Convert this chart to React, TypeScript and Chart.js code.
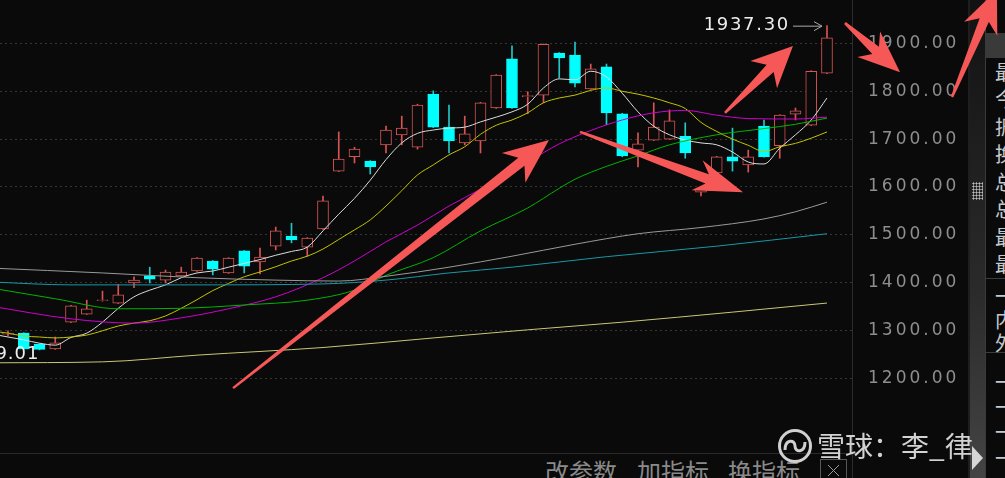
import React, { useEffect, useRef } from 'react';
import { Chart, registerables } from 'chart.js';

Chart.register(...registerables);

// ---------- data ----------
const opens = [1292, 1294, 1271, 1261, 1317, 1334, 1362, 1357, 1399, 1414, 1405, 1414, 1424, 1445, 1420, 1466, 1443, 1476, 1497, 1474, 1512, 1633, 1663, 1654, 1688, 1709, 1683, 1794, 1725, 1692, 1696, 1765, 1868, 1789, 1792, 1880, 1876, 1805, 1851, 1753, 1677, 1698, 1700, 1706, 1589, 1629, 1663, 1646, 1727, 1686, 1752, 1729, 1838];
const highs = [1299, 1295, 1272, 1286, 1352, 1363, 1382, 1396, 1412, 1432, 1426, 1432, 1452, 1446, 1452, 1467, 1472, 1516, 1524, 1494, 1581, 1715, 1683, 1655, 1727, 1748, 1773, 1801, 1771, 1748, 1777, 1835, 1895, 1799, 1899, 1881, 1903, 1857, 1857, 1754, 1713, 1776, 1761, 1734, 1600, 1664, 1723, 1677, 1740, 1751, 1765, 1843, 1937.3];
const lows = [1288, 1260, 1259.01, 1260, 1316, 1333, 1361, 1356, 1389, 1399, 1399, 1413, 1423, 1416, 1419, 1420, 1418, 1468, 1483, 1455, 1511, 1632, 1650, 1627, 1671, 1688, 1679, 1724, 1671, 1688, 1671, 1764, 1764, 1753, 1776, 1828, 1809, 1804, 1730, 1663, 1642, 1697, 1699, 1660, 1581, 1628, 1633, 1631, 1662, 1660, 1740, 1728, 1837];
const closes = [1294, 1261, 1260, 1274, 1351, 1345, 1364, 1374, 1405, 1407, 1422, 1422, 1451, 1428, 1451, 1434, 1453, 1508, 1489, 1493, 1571, 1658, 1679, 1642, 1719, 1723, 1771, 1725, 1696, 1711, 1776, 1834, 1765, 1791, 1898, 1870, 1817, 1847, 1755, 1665, 1690, 1725, 1738, 1671, 1596, 1663, 1654, 1663, 1663, 1750, 1759, 1842, 1912];

// moving averages, first value belongs to index -1 (just left of the view)
const ma5 = [1292, 1286, 1280, 1273, 1269, 1285, 1294, 1317, 1346, 1370, 1384, 1395, 1410, 1420, 1424, 1432, 1440, 1448, 1457, 1465, 1474, 1508, 1543, 1576, 1614, 1657, 1692, 1712, 1719, 1723, 1725, 1736, 1746, 1757, 1773, 1807, 1826, 1824, 1842, 1830, 1796, 1757, 1727, 1709, 1698, 1692, 1688, 1673, 1652, 1648, 1681, 1709, 1740, 1786];
const ma10 = [1298, 1294, 1288, 1286, 1284, 1286, 1290, 1299, 1309, 1315, 1320, 1330, 1346, 1364, 1383, 1398, 1412, 1422, 1433, 1445, 1455, 1470, 1490, 1510, 1531, 1560, 1592, 1625, 1646, 1667, 1684, 1710, 1729, 1740, 1755, 1776, 1786, 1792, 1802, 1807, 1800, 1794, 1786, 1776, 1764, 1735, 1716, 1700, 1687, 1674, 1684, 1691, 1702, 1715];
// sparse readings: [index, value]
const ma20: [number, number][] = [[-1, 1350], [4, 1324], [8, 1315], [11, 1326], [14, 1345], [17, 1370], [20, 1410], [22, 1445], [24, 1485], [26, 1520], [28, 1560], [30, 1595], [33, 1652], [35, 1690], [37, 1718], [39, 1740], [41, 1755], [43, 1760], [45, 1750], [47, 1743], [50, 1742], [52, 1746]];
const ma30: [number, number][] = [[-1, 1388], [3, 1366], [7, 1345], [11, 1346], [15, 1353], [19, 1363], [22, 1384], [24, 1415], [27, 1452], [30, 1508], [33, 1556], [35, 1597], [36, 1616], [38, 1643], [40, 1665], [42, 1688], [45, 1709], [48, 1722], [50, 1731], [52, 1744]];
const ma60: [number, number][] = [[-1, 1430], [6, 1420], [12, 1410], [17, 1405], [21, 1403], [24, 1413], [28, 1432], [32, 1455], [36, 1480], [40, 1502], [44, 1515], [48, 1533], [50, 1548], [52, 1568]];
const ma120: [number, number][] = [[-1, 1401], [4, 1395], [12, 1395], [20, 1397], [24, 1405], [28, 1420], [32, 1432], [38, 1454], [45, 1476], [52, 1502]];
const ma250: [number, number][] = [[-1, 1232], [6, 1234], [12, 1248], [20, 1264], [27, 1284], [33, 1301], [39, 1317], [46, 1338], [52, 1357]];

const yTickValues = [1200, 1300, 1400, 1500, 1600, 1700, 1800, 1900];

// hand-drawn red arrows, anchored in data space: [index, price]
const arrowFrom: [number, number][] = [[14.29, 1179], [36.32, 1715], [45.52, 1755], [53.14, 1943], [59.94, 1788]];
const arrowTo: [number, number][] = [[34.35, 1698], [46.67, 1589], [49.84, 1895], [56.64, 1840], [62.79, 2012]];
const arrowHeadLen = [45, 49, 41, 42, 42];
const arrowHeadW = [38, 32, 38, 34, 36];

const panelRowsA = ['最新', '今开', '振幅', '换手', '总手', '总额', '最高', '最低'];
const panelRowsB = ['一', '内盘', '外盘'];
const panelRowsC = ['一', '一', '一', '一'];
const toolbarItems = ['改参数', '加指标', '换指标'];
const watermark = '雪球：李_律';

// ---------- styling ----------
const BG = '#0a0a0a';
const RED = '#d85454';
const CYAN = '#00ffff';
const CYAN_WICK = '#24c6c6';
const ARROW = '#f65858';

function drawArrow(ctx: CanvasRenderingContext2D, x0: number, y0: number, x1: number, y1: number, headLen: number, headW: number) {
  const dx = x1 - x0, dy = y1 - y0;
  const L = Math.hypot(dx, dy);
  const ux = dx / L, uy = dy / L;
  const nx = -uy, ny = ux;
  const tailW = 2.5, shaftW = 10;
  const bx = x1 - ux * headLen, by = y1 - uy * headLen;
  const kx = x1 - ux * headLen * 0.78, ky = y1 - uy * headLen * 0.78;
  ctx.beginPath();
  ctx.moveTo(x0 + nx * tailW / 2, y0 + ny * tailW / 2);
  ctx.lineTo(kx + nx * shaftW / 2, ky + ny * shaftW / 2);
  ctx.lineTo(bx + nx * headW / 2, by + ny * headW / 2);
  ctx.lineTo(x1, y1);
  ctx.lineTo(bx - nx * headW / 2, by - ny * headW / 2);
  ctx.lineTo(kx - nx * shaftW / 2, ky - ny * shaftW / 2);
  ctx.lineTo(x0 - nx * tailW / 2, y0 - ny * tailW / 2);
  ctx.closePath();
  ctx.fill();
}

const overlayPlugin = {
  id: 'overlay',
  beforeDraw(chart: any) {
    (chart.ctx as any).letterSpacing = '3px';
  },
  beforeDatasetsDraw(chart: any) {
    (chart.ctx as any).letterSpacing = '0px';
  },
  afterDraw(chart: any) {
    const ctx: CanvasRenderingContext2D = chart.ctx;
    const xs = chart.scales.x, ys = chart.scales.y;
    ctx.save();
    // highest high marker
    let hi = 0, lo = 0;
    highs.forEach((h, i) => { if (h > highs[hi]) hi = i; });
    lows.forEach((l, i) => { if (l < lows[lo]) lo = i; });
    const hx = xs.getPixelForValue(hi), hy = ys.getPixelForValue(highs[hi]);
    (ctx as any).letterSpacing = '1.7px';
    ctx.font = '18px "DejaVu Sans"';
    ctx.fillStyle = '#eeeeee';
    ctx.textAlign = 'right';
    ctx.textBaseline = 'middle';
    ctx.fillText(highs[hi].toFixed(2), hx - 37, hy);
    ctx.strokeStyle = '#aaaaaa';
    ctx.lineWidth = 1;
    ctx.beginPath();
    ctx.moveTo(hx - 34, hy + 0.5);
    ctx.lineTo(hx - 5, hy + 0.5);
    ctx.moveTo(hx - 13, hy - 4);
    ctx.lineTo(hx - 5, hy + 0.5);
    ctx.lineTo(hx - 13, hy + 5);
    ctx.stroke();
    // lowest low marker
    const lx = xs.getPixelForValue(lo), ly = ys.getPixelForValue(lows[lo]);
    (ctx as any).letterSpacing = '1px';
    ctx.font = '18px "DejaVu Sans"';
    ctx.fillText(lows[lo].toFixed(2), lx, ly + 4);
    (ctx as any).letterSpacing = '0px';
    // red arrows
    ctx.fillStyle = ARROW;
    arrowFrom.forEach((f, k) => {
      const t = arrowTo[k];
      drawArrow(ctx, xs.getPixelForValue(f[0]), ys.getPixelForValue(f[1]), xs.getPixelForValue(t[0]), ys.getPixelForValue(t[1]), arrowHeadLen[k], arrowHeadW[k]);
    });
    ctx.restore();
  },
};

function lineDs(label: string, pts: { x: number; y: number }[], color: string) {
  return {
    type: 'line' as const,
    label,
    data: pts,
    borderColor: color,
    borderWidth: 1,
    pointRadius: 0,
    fill: false,
    cubicInterpolationMode: 'monotone' as const,
    order: 0,
  };
}

function CandleChart() {
  const ref = useRef<HTMLCanvasElement | null>(null);
  useEffect(() => {
    if (!ref.current) return;
    const isUp = (i: number) => closes[i] >= opens[i];
    const seq = (arr: number[]) => arr.map((v, k) => ({ x: k - 1, y: v }));
    const sparse = (arr: [number, number][]) => arr.map(([x, y]) => ({ x, y }));
    const chart = new Chart(ref.current, {
      type: 'bar',
      data: {
        datasets: [
          lineDs('MA250', sparse(ma250), '#c8c878'),
          lineDs('MA120', sparse(ma120), '#1898a8'),
          lineDs('MA60', sparse(ma60), '#9a9a9a'),
          lineDs('MA30', sparse(ma30), '#00b400'),
          lineDs('MA20', sparse(ma20), '#d000d0'),
          lineDs('MA10', seq(ma10), '#c4c400'),
          lineDs('MA5', seq(ma5), '#dcdcdc'),
          {
            type: 'bar',
            label: 'body',
            data: opens.map((o, i) => ({ x: i, y: [o, closes[i]] })) as any,
            backgroundColor: opens.map((_, i) => (isUp(i) ? BG : CYAN)),
            borderColor: opens.map((_, i) => (isUp(i) ? RED : CYAN)),
            borderWidth: 1,
            borderSkipped: false,
            barThickness: 11,
            grouped: false,
            order: 1,
          } as any,
          {
            type: 'bar',
            label: 'wick',
            data: highs.map((h, i) => ({ x: i, y: [lows[i], h] })) as any,
            backgroundColor: opens.map((_, i) => (isUp(i) ? RED : CYAN_WICK)),
            borderWidth: 0,
            barThickness: 1,
            grouped: false,
            order: 2,
          } as any,
        ],
      },
      options: {
        animation: false,
        responsive: false,
        maintainAspectRatio: false,
        events: [],
        layout: { padding: { left: 0, right: 0, top: 0, bottom: 63 } },
        plugins: { legend: { display: false }, tooltip: { enabled: false } },
        scales: {
          x: {
            type: 'linear',
            min: -0.508,
            max: 53.588,
            display: false,
            offset: false,
            grid: { display: false },
          },
          y: {
            type: 'linear',
            position: 'right',
            min: 1122.8,
            max: 1991,
            afterBuildTicks: (s: any) => {
              s.ticks = yTickValues.map((v) => ({ value: v }));
            },
            afterFit: (s: any) => {
              s.width = 153;
              s.paddingTop = 0;
              s.paddingBottom = 0;
            },
            grid: { color: '#363636', lineWidth: 1, drawTicks: false },
            border: { display: false, dash: [2, 3] },
            ticks: {
              color: '#8e8e8e',
              font: { family: 'DejaVu Sans', size: 17 },
              padding: 16,
              crossAlign: 'near',
              callback: (v: any) => Number(v).toFixed(2),
            },
          },
        },
      } as any,
      plugins: [overlayPlugin],
    });
    return () => chart.destroy();
  }, []);
  return (
    <canvas
      ref={ref}
      width={1005}
      height={478}
      style={{ position: 'absolute', left: 0, top: 0, width: 1005, height: 478, zIndex: 2 }}
    />
  );
}

const abs = (s: React.CSSProperties): React.CSSProperties => ({ position: 'absolute', ...s });

export default function App() {
  const rowsA = [72, 99, 127, 154, 182, 209, 237, 264];
  const rowsB = [296, 320, 343];
  const rowsC = [382, 407, 432, 458];
  const toolbarX = [545, 637, 728];
  const cjk = '"Noto Sans CJK SC", "Noto Sans", sans-serif';
  return (
    <div style={abs({ position: 'fixed', left: 0, top: 0, width: 1005, height: 478, background: BG, overflow: 'hidden', fontFamily: cjk })}>
      {/* frame lines */}
      <div style={abs({ left: 852, top: 0, width: 1, height: 478, background: '#2c2c2c' })} />
      <div style={abs({ left: 0, top: 453, width: 852, height: 1, background: '#2a2a2a' })} />
      <div style={abs({ left: 968, top: 0, width: 2, height: 478, background: '#1e1e1e' })} />
      {/* splitter strip */}
      <div style={abs({ left: 970, top: 0, width: 15, height: 478, background: 'linear-gradient(#121212, #2a2a2a 60%, #444444)' })} />
      <div style={abs({ left: 972, top: 182, width: 11, height: 18, backgroundImage: 'radial-gradient(circle, #bdbdbd 0.9px, transparent 1.2px)', backgroundSize: '3px 3px' })} />
      <svg width={14} height={26} style={abs({ left: 971, top: 446 })}>
        <polygon points="1,0 12,12 1,24" fill="#d6d6d6" />
      </svg>
      <div style={abs({ left: 985, top: 0, width: 1, height: 478, background: '#3a3a3a' })} />
      {/* right info panel (mostly cut off) */}
      <div style={abs({ left: 986, top: 0, width: 19, height: 478, overflow: 'hidden' })}>
        <div style={abs({ left: 0, top: 33, width: 19, height: 25, background: '#3a3a3a' })} />
        <div style={abs({ left: 0, top: 278, width: 19, height: 1, background: '#3c3c3c' })} />
        <div style={abs({ left: 0, top: 352, width: 19, height: 1, background: '#3c3c3c' })} />
        {panelRowsA.map((t, k) => (
          <div key={'a' + k} style={abs({ left: 9, top: rowsA[k] - 13, fontSize: 20, lineHeight: '26px', color: '#c4c8cc', whiteSpace: 'nowrap' })}>{t}</div>
        ))}
        {panelRowsB.map((t, k) => (
          <div key={'b' + k} style={abs({ left: 9, top: rowsB[k] - 13, fontSize: 20, lineHeight: '26px', color: '#c4c8cc', whiteSpace: 'nowrap' })}>{t}</div>
        ))}
        {panelRowsC.map((t, k) => (
          <div key={'c' + k} style={abs({ left: 9, top: rowsC[k] - 13, fontSize: 20, lineHeight: '26px', color: '#c4c8cc', whiteSpace: 'nowrap' })}>{t}</div>
        ))}
      </div>
      {/* bottom toolbar */}
      {toolbarItems.map((t, k) => (
        <div key={'t' + k} style={abs({ left: toolbarX[k], top: 458, fontSize: 24, lineHeight: '26px', color: '#8a8a8a', whiteSpace: 'nowrap' })}>{t}</div>
      ))}
      <div style={abs({ left: 820, top: 459, width: 27, height: 24, border: '1px solid #575757', boxSizing: 'border-box' })}>
        <svg width={25} height={22} style={abs({ left: 0, top: 0 })}>
          <line x1={7} y1={5} x2={18} y2={16} stroke="#9a9a9a" strokeWidth={1} />
          <line x1={18} y1={5} x2={7} y2={16} stroke="#9a9a9a" strokeWidth={1} />
        </svg>
      </div>
      {/* watermark */}
      <svg width={36} height={36} style={abs({ left: 777, top: 428, zIndex: 3 })}>
        <circle cx={18} cy={18} r={15.5} fill="none" stroke="#d0d0d0" strokeWidth={3} />
        <path d="M8 22 C 8 11, 18 11, 18 18 C 18 25, 28 25, 28 14" fill="none" stroke="#d0d0d0" strokeWidth={3} />
      </svg>
      <div style={abs({ left: 817, top: 429, fontSize: 28, lineHeight: '32px', color: '#d2d2d2', whiteSpace: 'nowrap', zIndex: 3 })}>{watermark}</div>
      <CandleChart />
    </div>
  );
}
